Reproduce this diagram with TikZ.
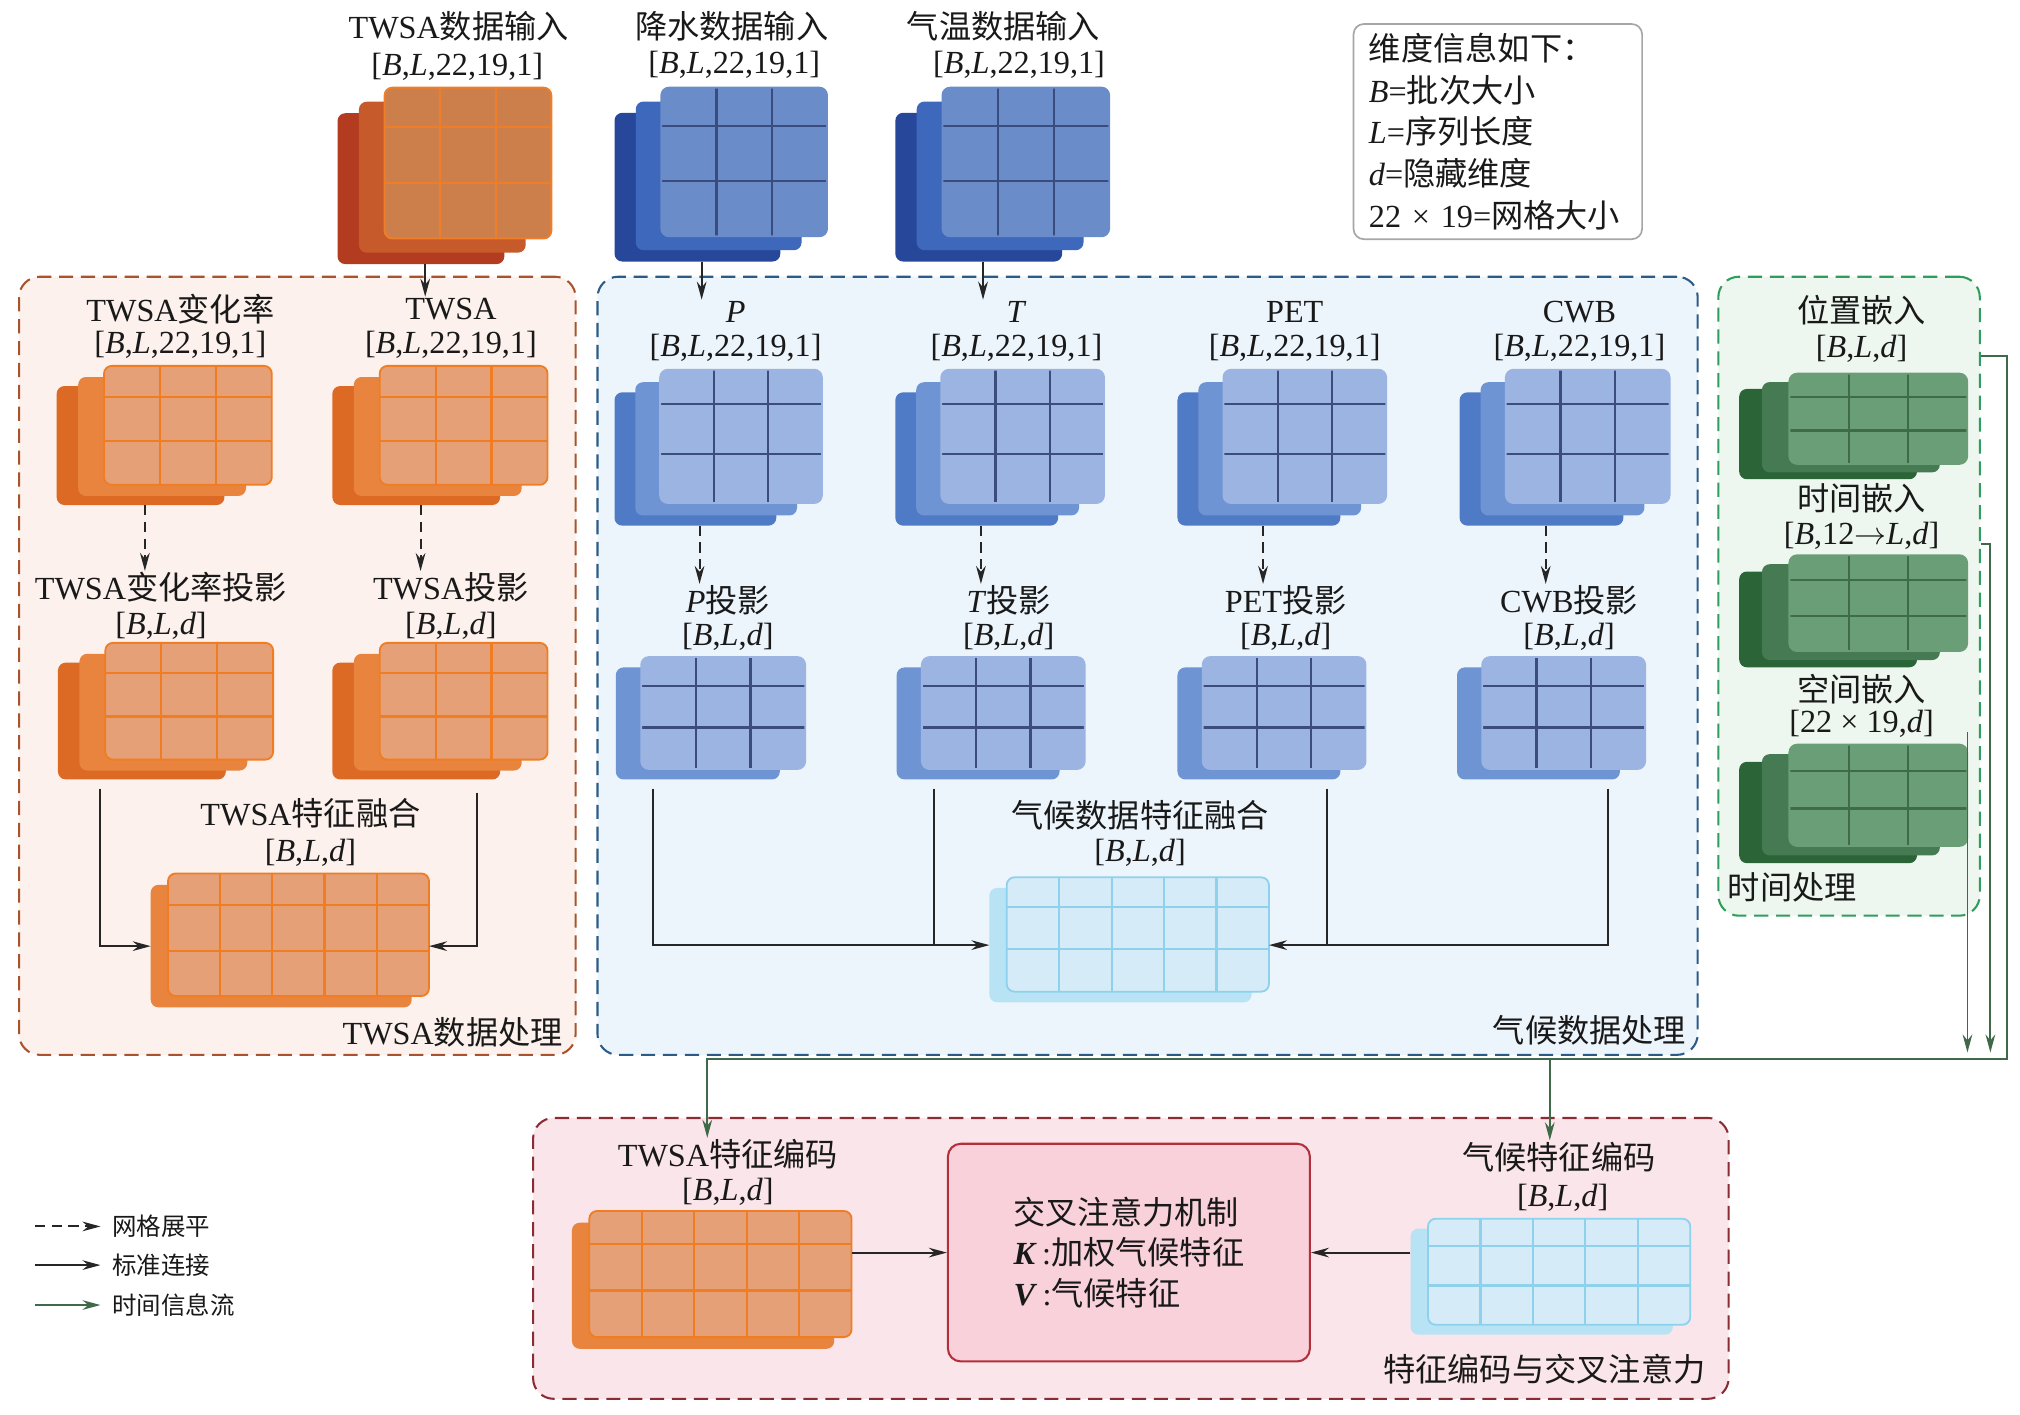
\documentclass[tikz,border=0pt]{standalone}
\usepackage{fontspec}
\setmainfont{Liberation Serif}
\newfontfamily\cjk{Noto Sans CJK SC}
\usetikzlibrary{arrows.meta,calc}
\definecolor{twinback}{HTML}{B33B1F}
\definecolor{twinmid}{HTML}{C65A2B}
\definecolor{twinfront}{HTML}{CD7F4B}
\definecolor{twinline}{HTML}{EF7E2B}
\definecolor{twinedge}{HTML}{EF7E2B}
\definecolor{orback}{HTML}{DC6A24}
\definecolor{ormid}{HTML}{E8843E}
\definecolor{orfront}{HTML}{E5A077}
\definecolor{orline}{HTML}{F07D22}
\definecolor{oredge}{HTML}{F07D22}
\definecolor{bdback}{HTML}{27489A}
\definecolor{bdmid}{HTML}{3D68BC}
\definecolor{bdfront}{HTML}{6A8CC9}
\definecolor{bdline}{HTML}{3A4C7E}
\definecolor{bdedge}{HTML}{6A8CC9}
\definecolor{blback}{HTML}{4F7AC6}
\definecolor{blmid}{HTML}{6F94D4}
\definecolor{blfront}{HTML}{9CB4E2}
\definecolor{blline}{HTML}{3C4D7C}
\definecolor{bledge}{HTML}{9CB4E2}
\definecolor{cyback}{HTML}{B8E3F4}
\definecolor{cymid}{HTML}{B8E3F4}
\definecolor{cyfront}{HTML}{D6EBF8}
\definecolor{cyline}{HTML}{8ED1EC}
\definecolor{cyedge}{HTML}{8ED1EC}
\definecolor{gnback}{HTML}{2A6437}
\definecolor{gnmid}{HTML}{467A53}
\definecolor{gnfront}{HTML}{6A9E77}
\definecolor{gnline}{HTML}{3E6C49}
\definecolor{gnedge}{HTML}{6A9E77}
\definecolor{twsaregF}{HTML}{FCF1EC}
\definecolor{twsaregB}{HTML}{A9532E}
\definecolor{climregF}{HTML}{EDF5FC}
\definecolor{climregB}{HTML}{2C5B87}
\definecolor{timeregF}{HTML}{EEF7EF}
\definecolor{timeregB}{HTML}{2E9D5E}
\definecolor{encregF}{HTML}{FAE5EA}
\definecolor{encregB}{HTML}{8B2B33}
\definecolor{attF}{HTML}{F8D1DB}
\definecolor{attB}{HTML}{B2303C}
\definecolor{tgreen}{HTML}{40694A}
\newcommand\zh[1]{{\cjk #1}}
\newcommand\dimA{[\textit{B},\textit{L},22,19,1]}
\newcommand\dimB{[\textit{B},\textit{L},\textit{d}]}
% front layer with grid: x y w h ncols palette
\newcommand\gridlayer[6]{%
  \fill[#6front,rounded corners=6pt] (#1,#2) rectangle ({#1+#3},{#2+#4});
  \pgfmathtruncatemacro\gnc{#5-1}%
  \foreach \gi in {1,...,\gnc}{\draw[#6line,line width=1.7pt] ({#1+\gi*#3/#5},#2) -- ({#1+\gi*#3/#5},{#2+#4});}
  \draw[#6line,line width=1.7pt] (#1,{#2+0.26*#4}) -- ({#1+#3},{#2+0.26*#4});
  \draw[#6line,line width=1.7pt] (#1,{#2+0.63*#4}) -- ({#1+#3},{#2+0.63*#4});
  \draw[#6edge,line width=1.4pt,rounded corners=6pt] (#1,#2) rectangle ({#1+#3},{#2+#4});
}
% three-layer stack: name x0 y0 x1 y1 palette
\newcommand\stackthree[6]{%
  \pgfmathsetmacro\sW{#4-#2}\pgfmathsetmacro\sH{#5-#3}%
  \pgfmathsetmacro\lw{0.78*\sW}\pgfmathsetmacro\lh{0.855*\sH}%
  \pgfmathsetmacro\dxa{0.10*\sW}\pgfmathsetmacro\dya{0.065*\sH}%
  \pgfmathsetmacro\bxr{#2+\lw}\pgfmathsetmacro\byt{#5-\lh}%
  \fill[#6back,rounded corners=6pt] (#2,\byt) rectangle (\bxr,#5);
  \fill[#6mid,rounded corners=6pt] ({#2+\dxa},{\byt-\dya}) rectangle ({\bxr+\dxa},{#5-\dya});
  \pgfmathsetmacro\fx{#4-\lw}%
  \gridlayer{\fx}{#3}{\lw}{\lh}{3}{#6}%
  \node[inner sep=0pt,minimum width=\sW pt,minimum height=\sH pt] (#1) at ({(#2+#4)/2},{(#3+#5)/2}) {};
  \coordinate (#1-b) at ({#2+0.41*\sW},#5);
}
% two-layer stack: name x0 y0 x1 y1 palette ncols wratio
\newcommand\stacktwo[8]{%
  \pgfmathsetmacro\sW{#4-#2}\pgfmathsetmacro\sH{#5-#3}%
  \pgfmathsetmacro\lw{#8*\sW}\pgfmathsetmacro\lh{0.915*\sH}%
  \pgfmathsetmacro\bxr{#2+\lw}\pgfmathsetmacro\byt{#5-\lh}%
  \fill[#6mid,rounded corners=6pt] (#2,\byt) rectangle (\bxr,#5);
  \pgfmathsetmacro\fx{#4-\lw}%
  \gridlayer{\fx}{#3}{\lw}{\lh}{#7}{#6}%
  \node[inner sep=0pt,minimum width=\sW pt,minimum height=\sH pt] (#1) at ({(#2+#4)/2},{(#3+#5)/2}) {};
  \coordinate (#1-bw) at (#2,{#5-\lh/2});
  \coordinate (#1-fe) at (#4,{#5-\lh/2});
}
\begin{document}
\begin{tikzpicture}[x=1pt,y=-1pt,
  lbl/.style={font=\fontsize{25}{30}\selectfont,inner sep=1pt,text=black!90},
  small/.style={font=\fontsize{19}{23}\selectfont,inner sep=1pt,text=black!90},
  region/.style={dash pattern=on 11pt off 6pt,line width=1.6pt,rounded corners=16pt,anchor=north west,inner sep=0pt},
  arr/.style={-{Stealth[length=14pt,width=7.5pt]},line width=1.5pt,draw=black!85},
  plain/.style={line width=1.5pt,draw=black!85},
  darr/.style={arr,dash pattern=on 8pt off 5pt},
  garr/.style={-{Stealth[length=14pt,width=7.5pt]},line width=1.5pt,draw=tgreen},
]
\fill[white] (0,0) rectangle (1568,1098);
\useasboundingbox (0,0) rectangle (1568,1098);

% regions
\node[region,draw=twsaregB,fill=twsaregF,minimum width=432pt,minimum height=604pt] (rt) at (14,214) {};
\node[region,draw=climregB,fill=climregF,minimum width=854pt,minimum height=604pt] (rc) at (463,214) {};
\node[region,draw=timeregB,fill=timeregF,minimum width=203pt,minimum height=496pt] (rg) at (1333,214) {};
\node[region,draw=encregB,fill=encregF,minimum width=928pt,minimum height=218pt] (rb) at (413,867) {};

% inputs
\node[lbl] (in1t) at (356,20) {TWSA\zh{数据输入}};
\node[lbl] (in1d) at (355,52) {\dimA};
\node[lbl] (in2t) at (568,20) {\zh{降水数据输入}};
\node[lbl] (in2d) at (570,50) {\dimA};
\node[lbl] (in3t) at (779,20) {\zh{气温数据输入}};
\node[lbl] (in3d) at (791,50) {\dimA};
\stackthree{in1}{262}{68}{428}{205}{twin}
\stackthree{in2}{477}{68}{642}{203}{bd}
\stackthree{in3}{695}{68}{861}{203}{bd}

% legend box
\node[draw=gray!70,line width=1.3pt,rounded corners=8pt,fill=white,anchor=north west,align=left,
  text width=200pt,inner xsep=12pt,inner ysep=4pt,minimum height=167pt,
  font=\fontsize{25}{32.5}\selectfont,text=black!90] (leg) at (1050,18)
  {\zh{维度信息如下：}\\\textit{B}=\zh{批次大小}\\\textit{L}=\zh{序列长度}\\\textit{d}=\zh{隐藏维度}\\\mbox{22~×~19=\zh{网格大小}}};

% TWSA region
\node[lbl] (twrt) at (140,240) {TWSA\zh{变化率}};
\node[lbl] (twrd) at (140,268) {\dimA};
\node[lbl] (twt) at (350,240) {TWSA};
\node[lbl] (twd) at (350,268) {\dimA};
\stackthree{twr}{44}{284}{211}{392}{or}
\stackthree{tw}{258}{284}{425}{392}{or}
\node[lbl] (twrpt) at (125,456) {TWSA\zh{变化率投影}};
\node[lbl] (twrpd) at (125,486) {\dimB};
\node[lbl] (twpt) at (350,456) {TWSA\zh{投影}};
\node[lbl] (twpd) at (350,486) {\dimB};
\stackthree{twrp}{45}{499}{212}{605}{or}
\stackthree{twp}{258}{499}{425}{605}{or}
\node[lbl] (fu1t) at (241,631) {TWSA\zh{特征融合}};
\node[lbl] (fu1d) at (241,662) {\dimB};
\stacktwo{fu1}{117}{678}{333}{782}{or}{5}{0.938}
\node[lbl,anchor=east] (rtl) at (438,801) {TWSA\zh{数据处理}};

% climate region
\node[lbl] (spt) at (571,242) {\textit{P}};
\node[lbl] (spd) at (571,270) {\dimA};
\node[lbl] (stt) at (789,242) {\textit{T}};
\node[lbl] (std) at (789,270) {\dimA};
\node[lbl] (spett) at (1005,242) {PET};
\node[lbl] (spetd) at (1005,270) {\dimA};
\node[lbl] (scwbt) at (1226,242) {CWB};
\node[lbl] (scwbd) at (1226,270) {\dimA};
\stackthree{sp}{477}{287}{638}{408}{bl}
\stackthree{st}{695}{287}{857}{408}{bl}
\stackthree{spet}{914}{287}{1076}{408}{bl}
\stackthree{scwb}{1133}{287}{1296}{408}{bl}
\node[lbl] (ppt) at (565,466) {\textit{P}\zh{投影}};
\node[lbl] (ppd) at (565,494) {\dimB};
\node[lbl] (tpt) at (783,466) {\textit{T}\zh{投影}};
\node[lbl] (tpd) at (783,494) {\dimB};
\node[lbl] (petpt) at (998,466) {PET\zh{投影}};
\node[lbl] (petpd) at (998,494) {\dimB};
\node[lbl] (cwbpt) at (1218,466) {CWB\zh{投影}};
\node[lbl] (cwbpd) at (1218,494) {\dimB};
\stacktwo{pp}{478}{510}{625}{605}{bl}{3}{0.866}
\stacktwo{tp}{696}{510}{842}{605}{bl}{3}{0.866}
\stacktwo{petp}{914}{510}{1060}{605}{bl}{3}{0.866}
\stacktwo{cwbp}{1131}{510}{1277}{605}{bl}{3}{0.866}
\node[lbl] (fu2t) at (885,633) {\zh{气候数据特征融合}};
\node[lbl] (fu2d) at (885,662) {\dimB};
\stacktwo{fu2}{768}{681}{985}{778}{cy}{5}{0.938}
\node[lbl,anchor=east] (rcl) at (1310,800) {\zh{气候数据处理}};

% time region
\node[lbl] (gpet) at (1445,241) {\zh{位置嵌入}};
\node[lbl] (gped) at (1445,271) {\dimB};
\stackthree{gpe}{1350}{290}{1527}{372}{gn}
\node[lbl] (gtet) at (1445,387) {\zh{时间嵌入}};
\node[lbl] (gted) at (1445,416) {[\textit{B},12$\rightarrow$\textit{L},\textit{d}]};
\stackthree{gte}{1350}{431}{1527}{518}{gn}
\node[lbl] (gset) at (1445,535) {\zh{空间嵌入}};
\node[lbl] (gsed) at (1445,562) {[22 × 19,\textit{d}]};
\stackthree{gse}{1350}{578}{1527}{670}{gn}
\node[lbl,anchor=west] (rgl) at (1340,689) {\zh{时间处理}};

% bottom region
\node[lbl] (enc1t) at (565,896) {TWSA\zh{特征编码}};
\node[lbl] (enc1d) at (565,925) {\dimB};
\stacktwo{enc1}{444}{940}{661}{1047}{or}{5}{0.938}
\node[lbl] (enc2t) at (1210,898) {\zh{气候特征编码}};
\node[lbl] (enc2d) at (1213,930) {\dimB};
\stacktwo{enc2}{1095}{946}{1312}{1036}{cy}{5}{0.938}
\node[draw=attB,fill=attF,line width=1.6pt,rounded corners=10pt,minimum width=281pt,minimum height=169pt,
  anchor=north west,align=left,font=\fontsize{25}{31.5}\selectfont,text=black!90] (att) at (735,887)
  {\zh{交叉注意力机制}\\\textbf{\textit{K}}\,:\zh{加权气候特征}\\\textbf{\textit{V}}\,:\zh{气候特征}};
\node[lbl,anchor=east] (rbl) at (1325,1063) {\zh{特征编码与交叉注意力}};

% input arrows
\draw[arr] (in1-b) -- (in1-b |- twt.north);
\draw[arr] (in2-b) -- (in2-b |- spt.north);
\draw[arr] (in3-b) -- (in3-b |- stt.north);
% flatten arrows
\draw[darr] (twr-b) -- (twr-b |- twrpt.north);
\draw[darr] (tw-b) -- (tw-b |- twpt.north);
\draw[darr] (sp-b) -- (sp-b |- ppt.north);
\draw[darr] (st-b) -- (st-b |- tpt.north);
\draw[darr] (spet-b) -- (spet-b |- petpt.north);
\draw[darr] (scwb-b) -- (scwb-b |- cwbpt.north);
% TWSA fusion
\draw[arr] ([xshift=33pt,yshift=-7pt]twrp.south west) |- (fu1-bw);
\draw[arr] ([xshift=-55pt,yshift=-10pt]twp.south east) |- (fu1-fe);
% climate fusion
\draw[arr] ([xshift=29pt,yshift=-7pt]pp.south west) |- (fu2-bw);
\coordinate (tpl) at ([xshift=29pt,yshift=-7pt]tp.south west);
\draw[plain] (tpl) -- (tpl |- fu2-bw);
\draw[arr] ([xshift=-29pt,yshift=-7pt]cwbp.south east) |- (fu2-fe);
\coordinate (petl) at ([xshift=-30pt,yshift=-7pt]petp.south east);
\draw[plain] (petl) -- (petl |- fu2-fe);
% encoder to attention
\draw[arr] (enc1.east |- att.west) -- (att.west);
\draw[arr] (enc2.west |- att.east) -- (att.east);
% time information flow
\coordinate (busR) at (1558,822);
\coordinate (busL) at (549,822);
\coordinate (busM) at (1203,822);
\coordinate (bus2) at (1545,817);
\coordinate (g1) at ([yshift=-5pt]rg.east |- gped.center);
\coordinate (g2) at ([yshift=-6pt]rg.east |- gted.center);
\coordinate (g3) at ([yshift=-6pt]gse.east |- gsed.center);
\draw[garr] (g1) -| (busR) -- (busL) -- (busL |- enc1t.north);
\draw[garr] (busM) -- (busM |- enc2t.north);
\draw[garr] (g2) -| (bus2);
\draw[garr] (g3) -- (g3 |- bus2);

% legend of line types
\coordinate (lg1) at (27,952);
\coordinate (lg2) at (27,982);
\coordinate (lg3) at (27,1013);
\node[small,anchor=west] (lg1t) at (86,952) {\zh{网格展平}};
\node[small,anchor=west] (lg2t) at (86,982) {\zh{标准连接}};
\node[small,anchor=west] (lg3t) at (86,1013) {\zh{时间信息流}};
\draw[darr,shorten >=8pt] (lg1) -- (lg1t.west);
\draw[arr,shorten >=8pt] (lg2) -- (lg2t.west);
\draw[garr,shorten >=8pt] (lg3) -- (lg3t.west);
\end{tikzpicture}
\end{document}
